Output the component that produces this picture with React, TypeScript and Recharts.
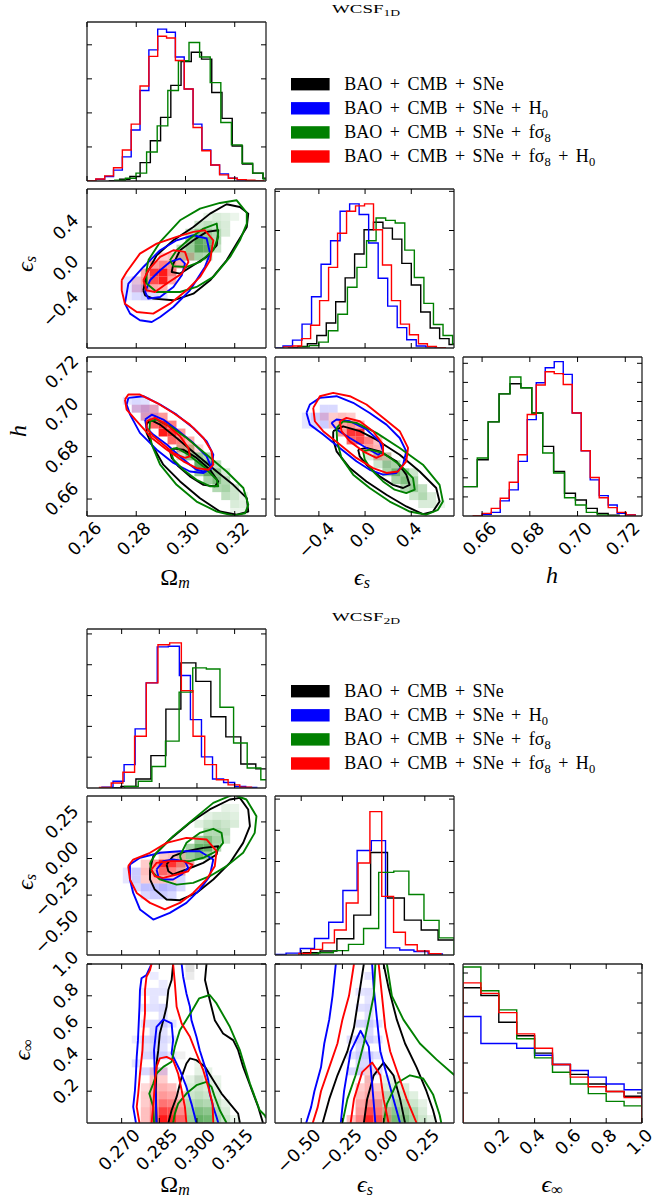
import React from "react";
import { ComposedChart, Line, XAxis, YAxis, ReferenceArea, Legend } from "recharts";

type Pt = [number, number];
type Hist = { lo: number; w: number; h: number[] };
type Cell = [number, number, number];

// Series order: BAO+CMB+SNe, +H0, +fσ8, +fσ8+H0
const SERIES_COLORS = ["#000000", "#0000ff", "#008000", "#ff0000"];
const SERIES_NAMES = [
  "BAO + CMB + SNe",
  "BAO + CMB + SNe + H0",
  "BAO + CMB + SNe + fσ8",
  "BAO + CMB + SNe + fσ8 + H0",
];
const SERIES_LABEL_PARTS: [string, string][][] = [
  [["BAO + CMB + SNe", ""]],
  [["BAO + CMB + SNe + H", "0"]],
  [["BAO + CMB + SNe + fσ", "8"]],
  [["BAO + CMB + SNe + fσ", "8"], [" + H", "0"]],
];

// ---------- axis ranges and ticks ----------
const OM_1D: [number, number] = [0.26, 0.3327];
const ES_1D: [number, number] = [-0.78, 0.77];
const H_1D: [number, number] = [0.652, 0.727];
const OM_2D: [number, number] = [0.2562, 0.3275];
const ES_2D: [number, number] = [-0.659, 0.427];
const EI_2D: [number, number] = [0, 1];

const OM_1D_TICKS = [0.26, 0.28, 0.3, 0.32];
const ES_1D_TICKS = [-0.4, 0, 0.4];
const H_1D_TICKS = [0.66, 0.68, 0.7, 0.72];
const OM_2D_TICKS = [0.27, 0.285, 0.3, 0.315];
const ES_2D_TICKS = [-0.5, -0.25, 0, 0.25];
const EI_2D_TICKS = [0.2, 0.4, 0.6, 0.8, 1.0];

// ---------- 1D marginal histograms (bin start, bin width, heights) ----------
const H1_OM_BASE: Hist = { lo: 0.2691, w: 0.004157, h: [0.01, 0.05, 0.13, 0.54, 1.18, 1.87, 2.81, 3.51, 3.78, 3.58, 2.6, 1.84, 1.03, 0.5, 0.23, 0.08] };
const H1_OM_H0: Hist = { lo: 0.26, w: 0.00359, h: [0.01, 0.05, 0.13, 0.32, 0.71, 1.5, 2.66, 3.85, 4.46, 4.37, 3.64, 2.7, 1.67, 0.91, 0.47, 0.21, 0.08, 0.03, 0.01, 0.0] };
const H1_OM_FS8: Hist = { lo: 0.27129, w: 0.004306, h: [0.02, 0.08, 0.23, 0.85, 1.62, 2.66, 3.53, 4.07, 3.64, 2.89, 1.72, 1.06, 0.52, 0.23, 0.06] };
const H1_OM_FS8H0: Hist = { lo: 0.26, w: 0.00359, h: [0.01, 0.06, 0.15, 0.39, 0.91, 1.67, 2.79, 3.66, 4.25, 4.2, 3.54, 2.7, 1.57, 0.89, 0.47, 0.18, 0.08, 0.04, 0.02, 0.01] };

const H1_ES_BASE: Hist = { lo: -0.6633, w: 0.0818, h: [0.01, 0.04, 0.11, 0.32, 0.64, 1.18, 1.79, 2.4, 3.02, 3.21, 3.06, 2.78, 2.16, 1.61, 0.92, 0.51, 0.24, 0.09] };
const H1_ES_H0: Hist = { lo: -0.793, w: 0.0824, h: [0.0, 0.05, 0.2, 0.61, 1.31, 2.14, 2.74, 3.49, 3.68, 3.41, 2.68, 1.78, 1.07, 0.52, 0.21, 0.05, 0.03, 0.01] };
const H1_ES_FS8: Hist = { lo: -0.567, w: 0.0828, h: [0.03, 0.06, 0.15, 0.44, 0.86, 1.55, 2.06, 2.74, 3.32, 3.26, 3.19, 2.5, 1.8, 1.14, 0.6, 0.32, 0.11] };
const H1_ES_FS8H0: Hist = { lo: -0.705, w: 0.0778, h: [0.03, 0.05, 0.24, 0.58, 1.21, 2.06, 2.93, 3.49, 3.63, 3.68, 3.02, 2.12, 1.21, 0.61, 0.34, 0.11, 0.04, 0.01] };

const H1_H_BASE: Hist = { lo: 0.64884, w: 0.00457, h: [1.54, 1.54, 2.95, 4.93, 6.4, 6.93, 6.72, 5.4, 3.65, 2.33, 1.19, 0.84, 0.4, 0.14, 0.04] };
const H1_H_H0: Hist = { lo: 0.6563, w: 0.00377, h: [0.0, 0.09, 0.19, 0.79, 1.37, 2.86, 5.05, 6.98, 7.77, 8.09, 7.42, 5.4, 3.42, 1.89, 1.07, 0.58, 0.14, 0.05] };
const H1_H_FS8: Hist = { lo: 0.64884, w: 0.00457, h: [1.54, 1.54, 3.04, 4.93, 6.4, 7.28, 6.72, 5.4, 3.3, 2.25, 0.96, 0.58, 0.19, 0.05, 0.02] };
const H1_H_FS8H0: Hist = { lo: 0.6563, w: 0.00377, h: [0.02, 0.14, 0.4, 0.93, 1.77, 3.21, 5.32, 6.86, 7.56, 7.46, 6.89, 5.4, 3.42, 2.02, 0.96, 0.44, 0.19, 0.05] };

const H2_OM_BASE: Hist = { lo: 0.26375, w: 0.005969, h: [0.01, 0.05, 0.29, 1.05, 2.56, 4.06, 3.46, 2.31, 1.66, 0.78, 0.62] };
const H2_OM_H0: Hist = { lo: 0.26216, w: 0.004404, h: [0.03, 0.22, 0.76, 1.92, 3.41, 4.58, 4.6, 3.65, 2.22, 1.01, 0.29, 0.18, 0.05, 0.02] };
const H2_OM_FS8: Hist = { lo: 0.27119, w: 0.005425, h: [0.05, 0.22, 0.7, 1.52, 3.11, 3.9, 3.86, 2.62, 1.46, 0.65, 0.27] };
const H2_OM_FS8H0: Hist = { lo: 0.26119, w: 0.004656, h: [0.02, 0.16, 0.51, 1.68, 3.41, 4.65, 4.71, 3.16, 1.68, 0.76, 0.27, 0.1, 0.03] };

const H2_ES_BASE: Hist = { lo: -0.488, w: 0.1023, h: [0.07, 0.13, 0.52, 1.28, 3.29, 1.83, 1.12, 0.8, 0.48] };
const H2_ES_H0: Hist = { lo: -0.678, w: 0.0862, h: [0.02, 0.06, 0.21, 0.53, 1.05, 2.07, 3.35, 3.67, 0.23, 0.16, 0.11, 0.03] };
const H2_ES_FS8: Hist = { lo: -0.488, w: 0.0916, h: [0.03, 0.07, 0.14, 0.34, 0.85, 2.65, 2.69, 1.94, 1.11, 0.55] };
const H2_ES_FS8H0: Hist = { lo: -0.514, w: 0.0718, h: [0.05, 0.18, 0.39, 0.8, 1.67, 2.95, 4.6, 1.88, 0.73, 0.33, 0.13, 0.04] };

const H2_EI_BASE: Hist = { lo: 0, w: 0.1, h: [4.51, 4.25, 3.36, 2.91, 2.33, 1.95, 1.62, 1.3, 1.05, 0.89] };
const H2_EI_H0: Hist = { lo: 0, w: 0.1, h: [3.55, 2.65, 2.65, 2.49, 2.26, 1.95, 1.75, 1.53, 1.3, 1.11] };
const H2_EI_FS8: Hist = { lo: 0, w: 0.1, h: [5.2, 4.41, 3.77, 2.81, 2.17, 1.69, 1.3, 0.98, 0.72, 0.57] };
const H2_EI_FS8H0: Hist = { lo: 0, w: 0.1, h: [4.67, 4.32, 3.68, 2.97, 2.49, 1.95, 1.53, 1.21, 1.05, 0.85] };

// ---------- 2D credible contours (68% / 95%) ----------
const C1_OM_ES_BASE: Pt[][] = [
  [[0.2829, -0.218], [0.2842, -0.055], [0.2883, 0.124], [0.2951, 0.27], [0.3032, 0.4], [0.31, 0.53], [0.3167, 0.621], [0.3221, 0.595], [0.3255, 0.53], [0.3249, 0.4], [0.3208, 0.238], [0.3167, 0.075], [0.31, -0.12], [0.3032, -0.25], [0.2951, -0.315], [0.2869, -0.299], [0.2836, -0.266]],
  [[0.2951, 0.043], [0.2978, 0.173], [0.3032, 0.27], [0.3086, 0.352], [0.3133, 0.368], [0.3127, 0.221], [0.3086, 0.108], [0.3032, 0.026], [0.2978, -0.055], [0.2944, -0.039]],
];
const C1_OM_ES_H0: Pt[][] = [
  [[0.2754, -0.348], [0.2768, -0.152], [0.2829, 0.01], [0.2897, 0.173], [0.2964, 0.27], [0.3032, 0.319], [0.3086, 0.287], [0.31, 0.14], [0.3079, 0.01], [0.3018, -0.218], [0.2951, -0.38], [0.2897, -0.478], [0.2863, -0.527], [0.2815, -0.51], [0.2775, -0.445]],
  [[0.2836, -0.234], [0.2856, -0.12], [0.2897, -0.022], [0.2937, 0.059], [0.2978, 0.091], [0.2998, 0.043], [0.2985, -0.071], [0.2951, -0.185], [0.2897, -0.283], [0.2849, -0.299]],
];
const C1_OM_ES_FS8: Pt[][] = [
  [[0.2849, 0.075], [0.2897, 0.254], [0.2978, 0.465], [0.3059, 0.579], [0.314, 0.634], [0.3208, 0.66], [0.3249, 0.537], [0.3249, 0.433], [0.3221, 0.27], [0.3181, 0.108], [0.3113, -0.087], [0.3045, -0.185], [0.2978, -0.234], [0.2883, -0.234], [0.2842, -0.152], [0.2842, -0.022]],
  [[0.2937, 0.075], [0.2964, 0.173], [0.3018, 0.287], [0.3073, 0.384], [0.3127, 0.433], [0.3133, 0.303], [0.3113, 0.173], [0.3059, 0.059], [0.3005, 0.01], [0.2951, 0.017]],
];
const C1_OM_ES_FS8H0: Pt[][] = [
  [[0.2741, -0.12], [0.2761, -0.039], [0.2815, 0.14], [0.2883, 0.238], [0.2964, 0.303], [0.3032, 0.352], [0.3079, 0.368], [0.3113, 0.27], [0.31, 0.075], [0.3059, -0.087], [0.3005, -0.218], [0.2937, -0.348], [0.2869, -0.445], [0.2802, -0.429], [0.2754, -0.348], [0.2741, -0.218]],
  [[0.2829, -0.12], [0.2849, -0.022], [0.2897, 0.108], [0.2951, 0.173], [0.2998, 0.157], [0.3012, 0.059], [0.2985, -0.055], [0.2924, -0.152], [0.2876, -0.234], [0.2842, -0.218]],
];

const C1_OM_H_BASE: Pt[][] = [
  [[0.2842, 0.6951], [0.2856, 0.6975], [0.2897, 0.6951], [0.2964, 0.6888], [0.3045, 0.6809], [0.3127, 0.673], [0.3194, 0.6667], [0.3249, 0.6604], [0.3255, 0.6541], [0.3208, 0.6526], [0.314, 0.6541], [0.3059, 0.6604], [0.2978, 0.6683], [0.291, 0.6762], [0.2863, 0.6857], [0.2842, 0.6912]],
  [[0.2937, 0.6825], [0.2951, 0.6838], [0.2991, 0.6833], [0.3045, 0.6794], [0.31, 0.6738], [0.3133, 0.6683], [0.312, 0.666], [0.3073, 0.6667], [0.3018, 0.6707], [0.2971, 0.6754], [0.2944, 0.6794]],
];
const C1_OM_H_H0: Pt[][] = [
  [[0.2768, 0.7077], [0.2829, 0.7085], [0.2897, 0.7046], [0.2964, 0.6998], [0.3032, 0.6935], [0.3086, 0.6872], [0.3113, 0.6809], [0.3106, 0.6746], [0.3073, 0.6723], [0.3018, 0.673], [0.2951, 0.677], [0.2883, 0.6833], [0.2815, 0.6912], [0.2775, 0.6998], [0.2761, 0.7046]],
  [[0.2836, 0.6975], [0.2863, 0.6998], [0.291, 0.6975], [0.2964, 0.6928], [0.3032, 0.6864], [0.3086, 0.6801], [0.3106, 0.6746], [0.3073, 0.673], [0.3045, 0.6738], [0.3018, 0.6762], [0.2978, 0.6801], [0.2924, 0.6857], [0.2869, 0.6904], [0.2842, 0.6935]],
];
const C1_OM_H_FS8: Pt[][] = [
  [[0.2856, 0.6967], [0.2883, 0.6975], [0.2937, 0.6943], [0.3005, 0.6888], [0.3086, 0.6809], [0.3167, 0.673], [0.3235, 0.6652], [0.3255, 0.6573], [0.3242, 0.6533], [0.3194, 0.6522], [0.3127, 0.6541], [0.3045, 0.6588], [0.2964, 0.6667], [0.2897, 0.6762], [0.2863, 0.6857], [0.2853, 0.692]],
  [[0.2937, 0.6833], [0.2964, 0.6841], [0.3012, 0.6809], [0.3073, 0.6754], [0.3127, 0.6691], [0.3133, 0.666], [0.31, 0.666], [0.3045, 0.6691], [0.2991, 0.6738], [0.2951, 0.6786]],
];
const C1_OM_H_FS8H0: Pt[][] = [
  [[0.2754, 0.7069], [0.2768, 0.7093], [0.2815, 0.7093], [0.2883, 0.7054], [0.2951, 0.7006], [0.3018, 0.6951], [0.3073, 0.6888], [0.3106, 0.6825], [0.3113, 0.6762], [0.3093, 0.6738], [0.3045, 0.6746], [0.2991, 0.6778], [0.2924, 0.6833], [0.2863, 0.6888], [0.2802, 0.6967], [0.2761, 0.7022]],
  [[0.2842, 0.6967], [0.2876, 0.6983], [0.2924, 0.6951], [0.2978, 0.6896], [0.3012, 0.6841], [0.3018, 0.6801], [0.2998, 0.6794], [0.2951, 0.6817], [0.291, 0.6857], [0.2869, 0.6896], [0.2842, 0.6935]],
];

const C1_ES_H_BASE: Pt[][] = [
  [[-0.276, 0.692], [-0.19, 0.6943], [-0.046, 0.692], [0.098, 0.688], [0.3, 0.6809], [0.473, 0.673], [0.616, 0.6652], [0.645, 0.6588], [0.588, 0.6541], [0.501, 0.6529], [0.357, 0.6565], [0.185, 0.662], [0.012, 0.6683], [-0.132, 0.6746], [-0.247, 0.6825], [-0.276, 0.688]],
  [[-0.06, 0.6833], [0.012, 0.6841], [0.127, 0.6825], [0.271, 0.6778], [0.357, 0.6715], [0.386, 0.6667], [0.329, 0.6652], [0.242, 0.6667], [0.127, 0.6707], [0.012, 0.6762], [-0.046, 0.6801]],
];
const C1_ES_H_H0: Pt[][] = [
  [[-0.507, 0.7006], [-0.478, 0.7046], [-0.391, 0.7077], [-0.247, 0.7085], [-0.103, 0.7054], [0.04, 0.7006], [0.185, 0.6951], [0.3, 0.6888], [0.357, 0.6825], [0.329, 0.6762], [0.271, 0.6723], [0.156, 0.6715], [0.04, 0.6738], [-0.075, 0.6778], [-0.219, 0.6841], [-0.363, 0.6904], [-0.478, 0.6951]],
  [[-0.291, 0.6959], [-0.247, 0.6975], [-0.132, 0.6967], [0.012, 0.6928], [0.127, 0.6872], [0.156, 0.6825], [0.113, 0.6809], [0.012, 0.6841], [-0.132, 0.6888], [-0.247, 0.6928]],
];
const C1_ES_H_FS8: Pt[][] = [
  [[-0.247, 0.6935], [-0.19, 0.6967], [-0.075, 0.6959], [0.098, 0.6912], [0.3, 0.6841], [0.501, 0.6762], [0.645, 0.6667], [0.674, 0.6588], [0.631, 0.6549], [0.53, 0.6526], [0.386, 0.6541], [0.213, 0.6588], [0.04, 0.6652], [-0.103, 0.6715], [-0.204, 0.6794], [-0.242, 0.6872]],
  [[-0.017, 0.6825], [0.04, 0.6833], [0.156, 0.6817], [0.3, 0.6762], [0.415, 0.6699], [0.43, 0.6644], [0.357, 0.6628], [0.256, 0.6644], [0.156, 0.6683], [0.055, 0.6738], [-0.003, 0.6786]],
];
const C1_ES_H_FS8H0: Pt[][] = [
  [[-0.449, 0.703], [-0.391, 0.7085], [-0.276, 0.7101], [-0.132, 0.7085], [0.012, 0.7046], [0.156, 0.6983], [0.3, 0.692], [0.372, 0.6841], [0.357, 0.6778], [0.285, 0.673], [0.185, 0.6723], [0.069, 0.6746], [-0.075, 0.6794], [-0.219, 0.6857], [-0.363, 0.692], [-0.435, 0.6967]],
  [[-0.219, 0.6967], [-0.161, 0.6983], [-0.046, 0.6967], [0.069, 0.692], [0.156, 0.6857], [0.156, 0.6809], [0.098, 0.6794], [-0.017, 0.6825], [-0.132, 0.6872], [-0.204, 0.692]],
];

const C2_OM_ES_BASE: Pt[][] = [
  [[0.2813, -0.075], [0.2826, 0.016], [0.2892, 0.13], [0.2972, 0.244], [0.3051, 0.335], [0.3131, 0.403], [0.3171, 0.414], [0.3204, 0.335], [0.3211, 0.221], [0.3184, 0.107], [0.3131, -0.03], [0.3065, -0.143], [0.2998, -0.235], [0.2932, -0.285], [0.2879, -0.28], [0.2832, -0.212], [0.2813, -0.143]],
  [[0.2879, -0.041], [0.2905, 0.016], [0.2958, 0.05], [0.3025, 0.073], [0.3085, 0.084], [0.3078, 0.027], [0.3025, -0.03], [0.2958, -0.075], [0.2905, -0.109], [0.2886, -0.087]],
];
const C2_OM_ES_H0: Pt[][] = [
  [[0.2733, -0.041], [0.2773, 0.005], [0.2852, 0.039], [0.2932, 0.05], [0.3011, 0.05], [0.3065, -0.007], [0.3051, -0.121], [0.3011, -0.212], [0.2958, -0.303], [0.2892, -0.371], [0.2826, -0.417], [0.2773, -0.348], [0.2746, -0.235], [0.2733, -0.143]],
  [[0.2839, -0.075], [0.2866, -0.018], [0.2905, -0.007], [0.2952, -0.018], [0.2965, -0.064], [0.2939, -0.109], [0.2905, -0.143], [0.2866, -0.143], [0.2846, -0.121]],
];
const C2_OM_ES_FS8: Pt[][] = [
  [[0.2813, -0.03], [0.2839, 0.039], [0.2905, 0.153], [0.2985, 0.266], [0.3065, 0.38], [0.3144, 0.437], [0.3197, 0.403], [0.3237, 0.289], [0.323, 0.175], [0.3184, 0.039], [0.3118, -0.052], [0.3051, -0.121], [0.2985, -0.166], [0.2919, -0.178], [0.2852, -0.143], [0.2819, -0.087]],
  [[0.2932, 0.016], [0.2958, 0.107], [0.3011, 0.175], [0.3065, 0.203], [0.3098, 0.175], [0.3104, 0.107], [0.3078, 0.05], [0.3025, 0.005], [0.2972, -0.018], [0.2939, -0.018]],
];
const C2_OM_ES_FS8H0: Pt[][] = [
  [[0.2726, -0.052], [0.2746, -0.007], [0.2813, 0.039], [0.2879, 0.107], [0.2958, 0.141], [0.3038, 0.13], [0.3078, 0.05], [0.3071, -0.052], [0.3038, -0.143], [0.2985, -0.235], [0.2932, -0.303], [0.2872, -0.348], [0.2813, -0.303], [0.276, -0.235], [0.2733, -0.143]],
  [[0.2819, -0.075], [0.2839, -0.03], [0.2892, -0.018], [0.2945, -0.018], [0.2982, -0.041], [0.2965, -0.087], [0.2919, -0.109], [0.2866, -0.132], [0.2832, -0.121]],
];

// open contour segments that run into the panel edges
const C2_OM_EI_BASE: Pt[][] = [
  [[0.2905, 1.0], [0.2899, 0.899], [0.2886, 0.836], [0.2879, 0.731], [0.2866, 0.647], [0.2852, 0.563], [0.2846, 0.458], [0.2839, 0.374], [0.2836, 0.206], [0.2839, 0]],
  [[0.3038, 1.0], [0.3032, 0.899], [0.3051, 0.773], [0.3071, 0.647], [0.3104, 0.563], [0.3144, 0.521], [0.3164, 0.458], [0.3184, 0.353], [0.3204, 0.269], [0.3224, 0.185], [0.3244, 0.101], [0.3263, 0]],
  [[0.2886, 0], [0.2899, 0.08], [0.2919, 0.164], [0.2939, 0.29], [0.2958, 0.374], [0.2972, 0.406], [0.2998, 0.395], [0.3032, 0.353], [0.3065, 0.269], [0.3098, 0.185], [0.3131, 0.122], [0.3164, 0.059], [0.3171, 0]],
];
const C2_OM_EI_H0: Pt[][] = [
  [[0.2757, 0], [0.2746, 0.101], [0.2753, 0.206], [0.2757, 0.311], [0.276, 0.416], [0.2765, 0.521], [0.2768, 0.626], [0.2771, 0.731], [0.2773, 0.836], [0.2779, 0.91], [0.2799, 0.931], [0.2819, 1.0]],
  [[0.2939, 1.0], [0.2945, 0.92], [0.2958, 0.815], [0.2972, 0.731], [0.2978, 0.647], [0.2998, 0.542], [0.3011, 0.458], [0.3032, 0.353], [0.3045, 0.269], [0.3051, 0.185], [0.3065, 0.101], [0.3078, 0.038], [0.3085, 0]],
  [[0.2839, 0], [0.2836, 0.164], [0.2832, 0.311], [0.2829, 0.458], [0.2839, 0.605], [0.2866, 0.651], [0.2899, 0.626], [0.2905, 0.521], [0.2899, 0.437], [0.2932, 0.332], [0.2958, 0.227], [0.2978, 0.122], [0.2998, 0]],
];
const C2_OM_EI_FS8: Pt[][] = [
  [[0.3275, 0.03], [0.327, 0.049], [0.325, 0.08], [0.3211, 0.248], [0.3171, 0.458], [0.3131, 0.605], [0.3078, 0.752], [0.3051, 0.805], [0.3009, 0.784], [0.2978, 0.7], [0.2932, 0.584], [0.2912, 0.479], [0.2899, 0.385], [0.2866, 0.353], [0.2839, 0.311], [0.2826, 0.248], [0.281, 0.185], [0.2826, 0.101], [0.2829, 0]],
  [[0.2905, 0], [0.2912, 0.059], [0.2925, 0.122], [0.2958, 0.185], [0.2998, 0.238], [0.3038, 0.259], [0.3058, 0.227], [0.3071, 0.164], [0.3091, 0.08], [0.3118, 0]],
];
const C2_OM_EI_FS8H0: Pt[][] = [
  [[0.2771, 0], [0.276, 0.101], [0.2766, 0.185], [0.2773, 0.311], [0.2783, 0.458], [0.2786, 0.563], [0.2793, 0.689], [0.2793, 0.836], [0.2799, 0.92], [0.2813, 0.962], [0.2819, 1.0]],
  [[0.2905, 1.0], [0.2912, 0.878], [0.2919, 0.731], [0.2939, 0.626], [0.2972, 0.542], [0.2998, 0.437], [0.3025, 0.332], [0.3045, 0.227], [0.3062, 0.122], [0.3065, 0]],
  [[0.2819, 0], [0.2826, 0.101], [0.2832, 0.248], [0.2839, 0.353], [0.2852, 0.406], [0.2879, 0.416], [0.2905, 0.395], [0.2925, 0.311], [0.2939, 0.206], [0.2952, 0.101], [0.2958, 0]],
];

const C2_ES_EI_BASE: Pt[][] = [
  [[-0.37, 0], [-0.33, 0.15], [-0.28, 0.3], [-0.22, 0.45], [-0.18, 0.6], [-0.15, 0.8], [-0.12, 1.0]],
  [[0.0, 1.0], [0.03, 0.85], [0.08, 0.65], [0.13, 0.5], [0.2, 0.35], [0.26, 0.2], [0.3, 0.08], [0.32, 0]],
  [[-0.12, 0], [-0.1, 0.15], [-0.06, 0.3], [0.0, 0.38], [0.06, 0.3], [0.1, 0.15], [0.13, 0]],
];
const C2_ES_EI_H0: Pt[][] = [
  [[-0.47, 0], [-0.44, 0.1], [-0.42, 0.2], [-0.38, 0.35], [-0.36, 0.5], [-0.33, 0.65], [-0.31, 0.8], [-0.29, 1.0]],
  [[-0.07, 1.0], [-0.06, 0.85], [-0.04, 0.65], [-0.02, 0.45], [0.02, 0.3], [0.06, 0.15], [0.1, 0]],
  [[-0.26, 0], [-0.24, 0.2], [-0.2, 0.45], [-0.14, 0.58], [-0.09, 0.48], [-0.07, 0.25], [-0.05, 0]],
];
const C2_ES_EI_FS8: Pt[][] = [
  [[-0.25, 0], [-0.22, 0.15], [-0.17, 0.3], [-0.12, 0.5], [-0.09, 0.65], [-0.06, 0.8], [-0.05, 1.0]],
  [[0.02, 1.0], [0.05, 0.8], [0.12, 0.65], [0.22, 0.5], [0.32, 0.4], [0.43, 0.3]],
  [[0.0, 0], [0.02, 0.12], [0.08, 0.25], [0.16, 0.3], [0.24, 0.28], [0.3, 0.18], [0.34, 0.05], [0.35, 0]],
];
const C2_ES_EI_FS8H0: Pt[][] = [
  [[-0.43, 0], [-0.4, 0.1], [-0.38, 0.2], [-0.33, 0.35], [-0.28, 0.5], [-0.25, 0.65], [-0.21, 0.8], [-0.18, 1.0]],
  [[-0.03, 1.0], [-0.01, 0.8], [0.01, 0.6], [0.04, 0.45], [0.09, 0.3], [0.14, 0.15], [0.2, 0]],
  [[-0.2, 0], [-0.18, 0.15], [-0.13, 0.32], [-0.07, 0.38], [-0.02, 0.3], [0.0, 0.15], [0.03, 0]],
];

// ---------- 2D density cells on a 20x20 grid: [column, row, opacity] ----------
const S1_OM_ES_BASE: Cell[] = [[12, 12, 0.12], [13, 12, 0.1], [12, 13, 0.1], [11, 11, 0.08], [13, 13, 0.08]];
const S1_OM_ES_H0: Cell[] = [[5, 6, 0.15], [6, 6, 0.2], [7, 6, 0.15], [5, 7, 0.2], [6, 7, 0.25], [4, 7, 0.1], [4, 8, 0.1], [8, 6, 0.1], [5, 8, 0.12], [4, 6, 0.08]];
const S1_OM_ES_FS8: Cell[] = [[12, 12, 0.6], [13, 12, 0.55], [12, 13, 0.6], [13, 13, 0.5], [11, 12, 0.4], [11, 13, 0.4], [12, 14, 0.45], [13, 14, 0.4], [14, 13, 0.3], [14, 14, 0.3], [12, 11, 0.35], [13, 11, 0.3], [11, 11, 0.3], [14, 15, 0.2], [13, 15, 0.25], [12, 15, 0.2], [15, 15, 0.15], [15, 16, 0.12], [14, 16, 0.15], [13, 16, 0.1], [10, 11, 0.25], [10, 12, 0.25], [14, 12, 0.2], [15, 14, 0.15], [16, 16, 0.08], [11, 14, 0.25]];
const S1_OM_ES_FS8H0: Cell[] = [[7, 8, 0.7], [8, 8, 0.9], [7, 9, 0.8], [8, 9, 0.9], [6, 8, 0.4], [6, 9, 0.35], [9, 9, 0.5], [9, 10, 0.45], [8, 10, 0.5], [7, 10, 0.4], [10, 10, 0.3], [10, 11, 0.25], [9, 11, 0.25], [6, 7, 0.25], [7, 7, 0.35], [8, 7, 0.3], [5, 7, 0.15], [5, 8, 0.15], [9, 8, 0.35], [11, 11, 0.15], [8, 11, 0.2]];

const S1_OM_H_BASE: Cell[] = [[12, 6, 0.1], [13, 5, 0.1], [11, 7, 0.08]];
const S1_OM_H_H0: Cell[] = [[5, 13, 0.2], [6, 13, 0.25], [5, 14, 0.15], [6, 12, 0.2], [7, 12, 0.2], [4, 14, 0.1], [6, 14, 0.12], [7, 13, 0.15]];
const S1_OM_H_FS8: Cell[] = [[11, 7, 0.4], [12, 6, 0.55], [12, 7, 0.4], [13, 5, 0.55], [13, 6, 0.5], [14, 4, 0.5], [14, 5, 0.45], [11, 8, 0.3], [12, 5, 0.4], [15, 3, 0.35], [15, 4, 0.3], [14, 3, 0.3], [16, 2, 0.2], [16, 3, 0.2], [15, 2, 0.25], [17, 1, 0.12], [16, 1, 0.15], [17, 2, 0.1], [13, 4, 0.35], [13, 7, 0.3], [10, 8, 0.25], [10, 7, 0.2], [15, 5, 0.15], [14, 6, 0.25], [17, 0, 0.08], [16, 0, 0.08]];
const S1_OM_H_FS8H0: Cell[] = [[8, 10, 0.9], [9, 10, 0.8], [8, 11, 0.8], [7, 11, 0.6], [9, 9, 0.6], [10, 9, 0.5], [10, 10, 0.4], [7, 12, 0.35], [8, 12, 0.4], [6, 12, 0.25], [6, 13, 0.2], [5, 13, 0.15], [7, 13, 0.25], [11, 9, 0.3], [11, 8, 0.25], [9, 11, 0.5], [10, 8, 0.3], [12, 8, 0.15]];

const S1_ES_H_BASE: Cell[] = [[12, 6, 0.1], [13, 5, 0.1], [11, 7, 0.08]];
const S1_ES_H_H0: Cell[] = [[4, 12, 0.2], [5, 11, 0.2], [4, 11, 0.15], [5, 13, 0.15], [3, 12, 0.1], [6, 13, 0.15], [3, 11, 0.1], [5, 12, 0.2]];
const S1_ES_H_FS8: Cell[] = [[12, 6, 0.35], [13, 5, 0.5], [13, 6, 0.35], [14, 4, 0.5], [14, 5, 0.4], [15, 3, 0.4], [15, 4, 0.35], [16, 2, 0.3], [16, 3, 0.25], [12, 7, 0.25], [11, 7, 0.2], [12, 5, 0.35], [14, 3, 0.3], [13, 4, 0.35], [17, 1, 0.15], [17, 2, 0.15], [16, 1, 0.15], [15, 2, 0.2], [11, 6, 0.2], [18, 1, 0.08], [15, 5, 0.2], [10, 7, 0.15]];
const S1_ES_H_FS8H0: Cell[] = [[8, 10, 0.8], [9, 10, 0.8], [8, 9, 0.6], [9, 9, 0.7], [10, 9, 0.5], [7, 10, 0.4], [7, 11, 0.35], [8, 11, 0.45], [9, 11, 0.3], [10, 8, 0.4], [11, 8, 0.3], [6, 11, 0.25], [6, 12, 0.2], [5, 12, 0.15], [11, 9, 0.25], [11, 7, 0.2], [12, 7, 0.15], [7, 12, 0.25], [8, 12, 0.2]];

const S2_OM_ES_BASE: Cell[] = [[12, 12, 0.1], [11, 11, 0.1], [13, 13, 0.08], [10, 10, 0.08]];
const S2_OM_ES_H0: Cell[] = [[5, 9, 0.2], [5, 10, 0.2], [6, 8, 0.25], [7, 8, 0.25], [8, 8, 0.3], [9, 8, 0.25], [6, 7, 0.15], [7, 7, 0.2], [8, 7, 0.2], [9, 7, 0.15], [5, 8, 0.15], [10, 8, 0.15], [4, 9, 0.1], [4, 10, 0.1], [10, 9, 0.15]];
const S2_OM_ES_FS8: Cell[] = [[12, 13, 0.6], [13, 13, 0.55], [12, 12, 0.45], [11, 12, 0.4], [13, 14, 0.5], [12, 14, 0.4], [14, 14, 0.35], [14, 15, 0.3], [13, 15, 0.3], [13, 12, 0.35], [11, 13, 0.35], [14, 13, 0.3], [15, 15, 0.25], [15, 16, 0.2], [14, 16, 0.25], [13, 16, 0.2], [15, 17, 0.15], [16, 17, 0.12], [14, 17, 0.15], [16, 16, 0.15], [15, 14, 0.2], [10, 12, 0.2], [10, 11, 0.15], [12, 16, 0.12], [16, 18, 0.08], [15, 18, 0.1], [13, 17, 0.1]];
const S2_OM_ES_FS8H0: Cell[] = [[8, 11, 0.85], [9, 11, 0.8], [8, 10, 0.6], [9, 10, 0.5], [10, 11, 0.5], [7, 11, 0.4], [7, 10, 0.35], [10, 10, 0.3], [6, 10, 0.25], [6, 9, 0.2], [7, 9, 0.25], [8, 9, 0.25], [9, 9, 0.2], [6, 11, 0.2], [11, 11, 0.25], [8, 12, 0.2], [9, 12, 0.25], [10, 12, 0.2]];

const S2_OM_EI_BASE: Cell[] = [[11, 19, 0.12], [11, 18, 0.08], [12, 5, 0.08], [10, 8, 0.06]];
const S2_OM_EI_H0: Cell[] = [[6, 8, 0.15], [7, 8, 0.2], [8, 8, 0.2], [6, 10, 0.15], [7, 10, 0.2], [8, 10, 0.15], [7, 12, 0.15], [8, 12, 0.2], [6, 12, 0.12], [7, 14, 0.12], [8, 14, 0.15], [6, 14, 0.1], [7, 16, 0.1], [8, 16, 0.1], [7, 18, 0.08], [5, 10, 0.08], [9, 10, 0.1], [9, 12, 0.1], [6, 6, 0.15], [7, 6, 0.15], [8, 6, 0.15], [9, 8, 0.1], [5, 7, 0.1], [6, 16, 0.08], [7, 9, 0.15], [7, 11, 0.15], [8, 13, 0.12], [7, 15, 0.1], [8, 17, 0.08], [6, 9, 0.1], [8, 9, 0.12], [8, 11, 0.12]];
const S2_OM_EI_FS8: Cell[] = [[12, 0, 0.6], [13, 0, 0.55], [12, 1, 0.5], [13, 1, 0.45], [11, 0, 0.4], [11, 1, 0.35], [14, 0, 0.35], [14, 1, 0.3], [12, 2, 0.35], [13, 2, 0.3], [11, 2, 0.3], [14, 2, 0.2], [15, 0, 0.2], [15, 1, 0.15], [12, 3, 0.25], [13, 3, 0.2], [11, 3, 0.2], [12, 4, 0.2], [13, 4, 0.15], [14, 3, 0.15], [12, 5, 0.15], [13, 5, 0.12], [14, 4, 0.1], [11, 4, 0.15], [12, 6, 0.1], [13, 6, 0.1], [11, 5, 0.1], [15, 2, 0.1], [14, 5, 0.08], [12, 7, 0.08], [16, 0, 0.08]];
const S2_OM_EI_FS8H0: Cell[] = [[8, 0, 0.9], [9, 0, 0.85], [10, 0, 0.6], [7, 0, 0.5], [8, 1, 0.75], [9, 1, 0.7], [7, 1, 0.45], [10, 1, 0.45], [8, 2, 0.55], [9, 2, 0.5], [7, 2, 0.4], [10, 2, 0.35], [7, 3, 0.35], [8, 3, 0.4], [9, 3, 0.35], [7, 4, 0.3], [8, 4, 0.3], [9, 4, 0.25], [7, 5, 0.25], [8, 5, 0.2], [6, 3, 0.2], [6, 2, 0.2], [6, 1, 0.25], [6, 0, 0.25], [10, 3, 0.2], [7, 6, 0.15], [8, 6, 0.15], [6, 4, 0.15]];

const S2_ES_EI_BASE: Cell[] = [[11, 2, 0.1], [12, 3, 0.08], [10, 5, 0.06]];
const S2_ES_EI_H0: Cell[] = [[9, 8, 0.2], [10, 8, 0.2], [9, 10, 0.2], [10, 10, 0.2], [9, 12, 0.15], [10, 12, 0.2], [10, 14, 0.15], [9, 14, 0.12], [10, 16, 0.12], [10, 18, 0.1], [8, 8, 0.12], [8, 10, 0.12], [11, 8, 0.12], [11, 10, 0.12], [9, 6, 0.2], [8, 6, 0.15], [11, 6, 0.15], [9, 16, 0.1], [11, 12, 0.1], [9, 9, 0.15], [10, 11, 0.15], [10, 13, 0.12], [10, 15, 0.1], [9, 7, 0.15], [10, 7, 0.15]];
const S2_ES_EI_FS8: Cell[] = [[13, 0, 0.55], [14, 0, 0.5], [13, 1, 0.45], [14, 1, 0.4], [12, 0, 0.35], [15, 0, 0.35], [15, 1, 0.3], [13, 2, 0.35], [14, 2, 0.3], [12, 1, 0.3], [12, 2, 0.25], [15, 2, 0.2], [16, 0, 0.2], [16, 1, 0.15], [13, 3, 0.25], [14, 3, 0.2], [12, 3, 0.2], [13, 4, 0.15], [14, 4, 0.15], [15, 3, 0.12], [12, 4, 0.15], [13, 5, 0.1], [16, 2, 0.1], [17, 0, 0.1], [12, 5, 0.1]];
const S2_ES_EI_FS8H0: Cell[] = [[10, 0, 0.85], [11, 0, 0.7], [9, 0, 0.5], [10, 1, 0.7], [11, 1, 0.55], [9, 1, 0.4], [10, 2, 0.5], [11, 2, 0.4], [9, 2, 0.35], [10, 3, 0.35], [11, 3, 0.3], [9, 3, 0.25], [10, 4, 0.3], [10, 5, 0.25], [11, 4, 0.2], [9, 4, 0.2], [10, 6, 0.2], [8, 0, 0.25], [12, 0, 0.3], [12, 1, 0.2]];

// ---------- layout ----------
const COL_X = [87, 275, 463];
const ROW_Y_1 = [22, 189, 357];
const ROW_Y_2 = [629, 796, 964];
const PW = 179;
const PH = 159;
const PAD_L = 80;
const PAD_R = 24;
const PAD_T = 24;
const PAD_B = 70;
const TICK_LEN = 5;
const TICK_FS = 17.5;
const AXIS_LINE = { stroke: "#262626", strokeWidth: 1.3 };
const SERIF = "'Liberation Serif', 'DejaVu Serif', serif";

const fmt = (d: number) => (v: number) => v.toFixed(d).replace("-", "\u2212");

function labelExtent(s: string) {
  let w = 0;
  for (const c of s) w += c === "." ? 0.318 : c === "\u2212" ? 0.838 : 0.636;
  return (w * TICK_FS + 0.73 * TICK_FS) * 0.7071;
}

function BottomTick(props: any) {
  const { x, y, payload, fmtFn } = props;
  const s = fmtFn ? fmtFn(payload.value) : null;
  const cx = x - 2.5;
  const cy = s ? y + 4.5 + labelExtent(s) / 2 : 0;
  return (
    <g>
      <line x1={x} y1={y} x2={x} y2={y - TICK_LEN} stroke="#000" strokeWidth={1} />
      {s && (
        <text x={cx} y={cy} transform={`rotate(-45 ${cx} ${cy})`} textAnchor="middle" dominantBaseline="central" fontSize={TICK_FS} fontFamily="DejaVu Sans" fill="#000">
          {s}
        </text>
      )}
    </g>
  );
}
function TopTick(props: any) {
  const { x, y } = props;
  return <line x1={x} y1={y} x2={x} y2={y + TICK_LEN} stroke="#000" strokeWidth={1} />;
}
function LeftTick(props: any) {
  const { x, y, payload, fmtFn } = props;
  const s = fmtFn ? fmtFn(payload.value) : null;
  const cx = s ? x - 7 - labelExtent(s) / 2 : 0;
  return (
    <g>
      <line x1={x} y1={y} x2={x + TICK_LEN} y2={y} stroke="#000" strokeWidth={1} />
      {s && (
        <text x={cx} y={y} transform={`rotate(-45 ${cx} ${y})`} textAnchor="middle" dominantBaseline="central" fontSize={TICK_FS} fontFamily="DejaVu Sans" fill="#000">
          {s}
        </text>
      )}
    </g>
  );
}
function RightTick(props: any) {
  const { x, y } = props;
  return <line x1={x} y1={y} x2={x - TICK_LEN} y2={y} stroke="#000" strokeWidth={1} />;
}

function stepData(h: Hist) {
  const pts = [{ x: h.lo, y: 0 }];
  h.h.forEach((v, i) => pts.push({ x: h.lo + i * h.w, y: v }));
  pts.push({ x: h.lo + h.h.length * h.w, y: 0 });
  return pts;
}

function histLines(hs: Hist[]) {
  return hs.map((h, i) => (
    <Line
      key={"hist" + i}
      data={stepData(h)}
      dataKey="y"
      name={SERIES_NAMES[i]}
      type="stepAfter"
      stroke={SERIES_COLORS[i]}
      strokeWidth={1.4}
      dot={false}
      activeDot={false}
      legendType="rect"
      isAnimationActive={false}
    />
  ));
}

function contourLines(sets: Pt[][][], closed: boolean) {
  const out: React.ReactNode[] = [];
  sets.forEach((set, s) =>
    set.forEach((pts, k) => {
      const data = pts.map(([x, y]) => ({ x, y }));
      if (closed) data.push({ x: pts[0][0], y: pts[0][1] });
      out.push(
        <Line
          key={`c${s}-${k}`}
          data={data}
          dataKey="y"
          type="linear"
          stroke={SERIES_COLORS[s]}
          strokeWidth={1.9}
          strokeLinejoin="round"
          dot={false}
          activeDot={false}
          legendType="none"
          isAnimationActive={false}
        />
      );
    })
  );
  return out;
}

function densityCells(sets: Cell[][], xd: [number, number], yd: [number, number]) {
  const dx = (xd[1] - xd[0]) / 20;
  const dy = (yd[1] - yd[0]) / 20;
  const out: React.ReactNode[] = [];
  sets.forEach((cells, s) =>
    cells.forEach(([ix, iy, a], k) =>
      out.push(
        <ReferenceArea
          key={`a${s}-${k}`}
          x1={xd[0] + ix * dx}
          x2={xd[0] + (ix + 1) * dx}
          y1={yd[0] + iy * dy}
          y2={yd[0] + (iy + 1) * dy}
          fill={SERIES_COLORS[s]}
          fillOpacity={a}
          stroke="none"
          ifOverflow="hidden"
        />
      )
    )
  );
  return out;
}

function LegendBox(props: any) {
  const items: any[] = props.payload ?? [];
  return (
    <svg width={330} height={100} style={{ display: "block", overflow: "visible" }}>
      {items.map((it, j) => {
        const i = Math.max(0, SERIES_COLORS.indexOf(it.color));
        const parts = SERIES_LABEL_PARTS[i];
        const y0 = i * 24.1;
        return (
          <g key={j}>
            <rect x={0} y={y0} width={38.6} height={12.4} fill={it.color} />
            <text x={53.3} y={y0 + 12} fontFamily={SERIF} fontSize={18} wordSpacing={3} fill="#000" style={{ whiteSpace: "pre" }}>
              {parts.map(([t, sub], k) => (
                <React.Fragment key={k}>
                  <tspan dy={k > 0 && parts[k - 1][1] ? -4 : 0}>{t}</tspan>
                  {sub ? (
                    <tspan dy={4} fontSize={12.5}>
                      {sub}
                    </tspan>
                  ) : null}
                </React.Fragment>
              ))}
            </text>
          </g>
        );
      })}
    </svg>
  );
}

function Panel(props: {
  left: number;
  top: number;
  xDomain: [number, number];
  yDomain: [number, number];
  xTicks: number[];
  yTicks: number[];
  xFmt?: (v: number) => string;
  yFmt?: (v: number) => string;
  children: React.ReactNode;
}) {
  const { left, top, xDomain, yDomain, xTicks, yTicks, xFmt, yFmt, children } = props;
  return (
    <div style={{ position: "absolute", left: left - PAD_L, top: top - PAD_T }}>
      <ComposedChart width={PW + PAD_L + PAD_R} height={PH + PAD_T + PAD_B} margin={{ top: 0, right: 0, bottom: 0, left: 0 }}>
        <XAxis xAxisId={0} type="number" dataKey="x" domain={xDomain} allowDataOverflow ticks={xTicks} interval={0} height={PAD_B} tickSize={0} tickMargin={0} tickLine={false} axisLine={AXIS_LINE} tick={<BottomTick fmtFn={xFmt} />} />
        <XAxis xAxisId="top" orientation="top" type="number" dataKey="x" domain={xDomain} allowDataOverflow ticks={xTicks} interval={0} height={PAD_T} tickSize={0} tickMargin={0} tickLine={false} axisLine={AXIS_LINE} tick={<TopTick />} />
        <YAxis yAxisId={0} type="number" domain={yDomain} allowDataOverflow ticks={yTicks} interval={0} width={PAD_L} tickSize={0} tickMargin={0} tickLine={false} axisLine={AXIS_LINE} tick={<LeftTick fmtFn={yFmt} />} />
        <YAxis yAxisId="right" orientation="right" type="number" domain={yDomain} allowDataOverflow ticks={yTicks} interval={0} width={PAD_R} tickSize={0} tickMargin={0} tickLine={false} axisLine={AXIS_LINE} tick={<RightTick />} />
        {children}
      </ComposedChart>
    </div>
  );
}

// legend box placed to the right of the first marginal panel
const legendEl = (
  <Legend
    layout="vertical"
    align="center"
    verticalAlign="middle"
    wrapperStyle={{ left: 290.7 - (COL_X[0] - PAD_L), top: 78.3 - ROW_Y_1[0] + PAD_T, width: 330, height: 100 }}
    content={(p: any) => <LegendBox payload={p.payload} />}
  />
);

function AxisName({ x, y, base, sub, rotate, italic }: { x: number; y: number; base: string; sub: string; rotate?: boolean; italic?: boolean }) {
  return (
    <text x={x} y={y} transform={rotate ? `rotate(-90 ${x} ${y})` : undefined} textAnchor="middle" dominantBaseline="central" fontFamily={SERIF} fontSize={24} fill="#000">
      <tspan fontStyle={italic ? "italic" : "normal"}>{base}</tspan>
      {sub ? (
        <tspan fontStyle="italic" fontSize={16} dy={5}>
          {sub}
        </tspan>
      ) : null}
    </text>
  );
}

function Title({ y, sub }: { y: number; sub: string }) {
  return (
    <text x={366} y={y} textAnchor="middle" fontFamily={SERIF} fontSize={12.5} fill="#000" textLength={68} lengthAdjust="spacingAndGlyphs">
      WCSF
      <tspan fontSize={9} dy={3}>
        {sub}
      </tspan>
    </text>
  );
}

export default function App() {
  const f1Om = fmt(2);
  const f1Es = fmt(1);
  const f1H = fmt(2);
  const f2Om = fmt(3);
  const f2Es = fmt(2);
  const f2Ei = fmt(1);
  return (
    <div style={{ position: "absolute", left: 0, top: 0, width: 655, height: 1199, background: "#fff", overflow: "hidden" }}>
      {/* WCSF_1D */}
      <Panel left={COL_X[0]} top={ROW_Y_1[0]} xDomain={OM_1D} yDomain={[0, 4.67]} xTicks={OM_1D_TICKS} yTicks={[1, 2, 3, 4]}>
        {histLines([H1_OM_BASE, H1_OM_H0, H1_OM_FS8, H1_OM_FS8H0])}
        {legendEl}
      </Panel>
      <Panel left={COL_X[0]} top={ROW_Y_1[1]} xDomain={OM_1D} yDomain={ES_1D} xTicks={OM_1D_TICKS} yTicks={ES_1D_TICKS} yFmt={f1Es}>
        {densityCells([S1_OM_ES_BASE, S1_OM_ES_H0, S1_OM_ES_FS8, S1_OM_ES_FS8H0], OM_1D, ES_1D)}
        {contourLines([C1_OM_ES_BASE, C1_OM_ES_H0, C1_OM_ES_FS8, C1_OM_ES_FS8H0], true)}
      </Panel>
      <Panel left={COL_X[1]} top={ROW_Y_1[1]} xDomain={ES_1D} yDomain={[0, 4.06]} xTicks={ES_1D_TICKS} yTicks={[1, 2, 3, 4]}>
        {histLines([H1_ES_BASE, H1_ES_H0, H1_ES_FS8, H1_ES_FS8H0])}
      </Panel>
      <Panel left={COL_X[0]} top={ROW_Y_1[2]} xDomain={OM_1D} yDomain={H_1D} xTicks={OM_1D_TICKS} yTicks={H_1D_TICKS} xFmt={f1Om} yFmt={f1H}>
        {densityCells([S1_OM_H_BASE, S1_OM_H_H0, S1_OM_H_FS8, S1_OM_H_FS8H0], OM_1D, H_1D)}
        {contourLines([C1_OM_H_BASE, C1_OM_H_H0, C1_OM_H_FS8, C1_OM_H_FS8H0], true)}
      </Panel>
      <Panel left={COL_X[1]} top={ROW_Y_1[2]} xDomain={ES_1D} yDomain={H_1D} xTicks={ES_1D_TICKS} yTicks={H_1D_TICKS} xFmt={f1Es}>
        {densityCells([S1_ES_H_BASE, S1_ES_H_H0, S1_ES_H_FS8, S1_ES_H_FS8H0], ES_1D, H_1D)}
        {contourLines([C1_ES_H_BASE, C1_ES_H_H0, C1_ES_H_FS8, C1_ES_H_FS8H0], true)}
      </Panel>
      <Panel left={COL_X[2]} top={ROW_Y_1[2]} xDomain={H_1D} yDomain={[0, 8.33]} xTicks={H_1D_TICKS} yTicks={[1, 2, 3, 4, 5, 6, 7, 8]} xFmt={f1H}>
        {histLines([H1_H_BASE, H1_H_H0, H1_H_FS8, H1_H_FS8H0])}
      </Panel>

      {/* WCSF_2D */}
      <Panel left={COL_X[0]} top={ROW_Y_2[0]} xDomain={OM_2D} yDomain={[0, 5.16]} xTicks={OM_2D_TICKS} yTicks={[1, 2, 3, 4, 5]}>
        {histLines([H2_OM_BASE, H2_OM_H0, H2_OM_FS8, H2_OM_FS8H0])}
        {legendEl}
      </Panel>
      <Panel left={COL_X[0]} top={ROW_Y_2[1]} xDomain={OM_2D} yDomain={ES_2D} xTicks={OM_2D_TICKS} yTicks={ES_2D_TICKS} yFmt={f2Es}>
        {densityCells([S2_OM_ES_BASE, S2_OM_ES_H0, S2_OM_ES_FS8, S2_OM_ES_FS8H0], OM_2D, ES_2D)}
        {contourLines([C2_OM_ES_BASE, C2_OM_ES_H0, C2_OM_ES_FS8, C2_OM_ES_FS8H0], true)}
      </Panel>
      <Panel left={COL_X[1]} top={ROW_Y_2[1]} xDomain={ES_2D} yDomain={[0, 5.1]} xTicks={ES_2D_TICKS} yTicks={[1, 2, 3, 4, 5]}>
        {histLines([H2_ES_BASE, H2_ES_H0, H2_ES_FS8, H2_ES_FS8H0])}
      </Panel>
      <Panel left={COL_X[0]} top={ROW_Y_2[2]} xDomain={OM_2D} yDomain={EI_2D} xTicks={OM_2D_TICKS} yTicks={EI_2D_TICKS} xFmt={f2Om} yFmt={f2Ei}>
        {densityCells([S2_OM_EI_BASE, S2_OM_EI_H0, S2_OM_EI_FS8, S2_OM_EI_FS8H0], OM_2D, EI_2D)}
        {contourLines([C2_OM_EI_BASE, C2_OM_EI_H0, C2_OM_EI_FS8, C2_OM_EI_FS8H0], false)}
      </Panel>
      <Panel left={COL_X[1]} top={ROW_Y_2[2]} xDomain={ES_2D} yDomain={EI_2D} xTicks={ES_2D_TICKS} yTicks={EI_2D_TICKS} xFmt={f2Es}>
        {densityCells([S2_ES_EI_BASE, S2_ES_EI_H0, S2_ES_EI_FS8, S2_ES_EI_FS8H0], ES_2D, EI_2D)}
        {contourLines([C2_ES_EI_BASE, C2_ES_EI_H0, C2_ES_EI_FS8, C2_ES_EI_FS8H0], false)}
      </Panel>
      <Panel left={COL_X[2]} top={ROW_Y_2[2]} xDomain={EI_2D} yDomain={[0, 5.3]} xTicks={EI_2D_TICKS} yTicks={[1, 2, 3, 4, 5]} xFmt={f2Ei}>
        {histLines([H2_EI_BASE, H2_EI_H0, H2_EI_FS8, H2_EI_FS8H0])}
      </Panel>

      <svg width={655} height={1199} style={{ position: "absolute", left: 0, top: 0, pointerEvents: "none" }}>
        <Title y={13.3} sub="1D" />
        <Title y={620.5} sub="2D" />
        <AxisName x={25} y={264} base={"\u03f5"} sub="s" rotate italic />
        <AxisName x={18} y={431} base="h" sub="" rotate italic />
        <AxisName x={175} y={577} base={"\u03a9"} sub="m" />
        <AxisName x={362} y={577} base={"\u03f5"} sub="s" italic />
        <AxisName x={552} y={575} base="h" sub="" italic />
        <AxisName x={25} y={882} base={"\u03f5"} sub="s" rotate italic />
        <AxisName x={22} y={1050} base={"\u03f5"} sub={"\u221e"} rotate italic />
        <AxisName x={175} y={1184} base={"\u03a9"} sub="m" />
        <AxisName x={365} y={1184} base={"\u03f5"} sub="s" italic />
        <AxisName x={552} y={1184} base={"\u03f5"} sub={"\u221e"} italic />
      </svg>
    </div>
  );
}
